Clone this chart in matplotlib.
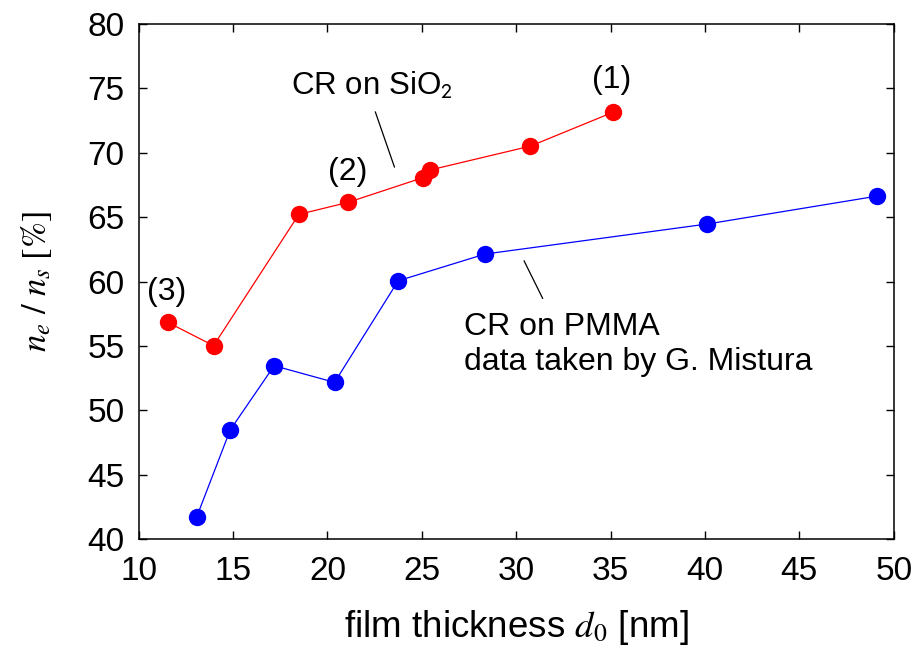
import matplotlib
matplotlib.use("Agg")
import matplotlib.pyplot as plt

plt.rcParams['font.family'] = ['Liberation Sans', 'DejaVu Sans']
plt.rcParams['mathtext.fontset'] = 'stix'

# CR on SiO2
sio2_d = [11.55, 13.97, 18.49, 21.09, 25.06, 25.42, 30.75, 35.11]
sio2_ratio = [56.83, 55.02, 65.22, 66.15, 68.07, 68.66, 70.52, 73.14]

# CR on PMMA (G. Mistura)
pmma_d = [13.07, 14.85, 17.18, 20.38, 23.75, 28.36, 40.12, 49.13]
pmma_ratio = [41.69, 48.47, 53.46, 52.17, 60.06, 62.14, 64.47, 66.64]

xticks = [10, 15, 20, 25, 30, 35, 40, 45, 50]
yticks = [40, 45, 50, 55, 60, 65, 70, 75, 80]

fig = plt.figure(figsize=(9.12, 6.51), dpi=100)
ax = fig.add_axes([0.152, 0.172, 0.828, 0.791])

ax.plot(sio2_d, sio2_ratio, '-o', color='#ff0000', lw=0.9, ms=11.5, clip_on=False, zorder=3)
ax.plot(pmma_d, pmma_ratio, '-o', color='#0000ff', lw=0.9, ms=11.5, clip_on=False, zorder=3)

ax.set_xlim(10, 50)
ax.set_ylim(40, 80)
ax.set_xticks(xticks)
ax.set_yticks(yticks)
ax.tick_params(direction='in', length=6, width=1, top=True, right=True, labelsize=24)
ax.tick_params(axis='x', pad=12)
ax.tick_params(axis='y', pad=10)
for s in ax.spines.values():
    s.set_linewidth(1.1)

ax.set_xlabel(r'film thickness $d_{\mathit{0}}$ [nm]', fontsize=26.5, labelpad=15)
ax.set_ylabel(r'$n_e\ /\ n_s\ [\%]$', fontsize=25, labelpad=24)

# annotations
ax.text(22.34, 75.2, r'CR on SiO$_\mathsf{2}$', fontsize=22.5, ha='center', va='center')
ax.plot([22.54, 23.55], [73.17, 68.9], color='black', lw=0.9)
ax.text(35.08, 75.65, '(1)', fontsize=23, ha='center', va='center')
ax.text(21.06, 68.5, '(2)', fontsize=23, ha='center', va='center')
ax.text(11.48, 59.2, '(3)', fontsize=23, ha='center', va='center')
ax.text(27.25, 56.5, 'CR on PMMA', fontsize=23, ha='left', va='center')
ax.text(27.25, 53.75, 'data taken by G. Mistura', fontsize=23, ha='left', va='center')
ax.plot([30.42, 31.4], [61.6, 58.7], color='black', lw=0.9)

fig.savefig('out.png', dpi=100)
